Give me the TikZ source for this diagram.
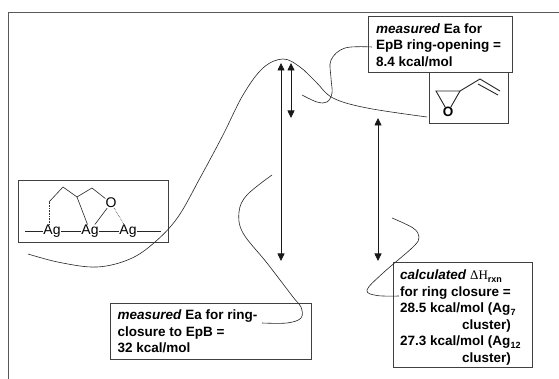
\documentclass[tikz,border=0pt]{standalone}
\usepackage{fontspec}
\setmainfont{Liberation Sans}
\newfontfamily\serifdelta{Liberation Serif}
\usetikzlibrary{arrows.meta}
\newcommand{\lowtext}[1]{\raisebox{-2.5pt}{\fontsize{9}{9}\selectfont #1}}
\tikzset{
  x=1pt,y=-1pt,
  boxnode/.style={draw=black!75,line width=0.8pt,inner sep=0pt,anchor=north west,fill=white},
  label text/.style={font=\fontsize{13.5}{16.5}\selectfont\bfseries,align=left,anchor=north west,inner sep=0pt},
  curve/.style={draw=black!85,line width=0.6pt,smooth,tension=0.6},
  dim/.style={draw=black!90,line width=0.8pt,{Triangle[length=7.5pt,width=7pt]}-{Triangle[length=7.5pt,width=7pt]}},
  bond/.style={draw=black!85,line width=0.6pt},
  dashbond/.style={draw=black!80,line width=0.6pt,densely dotted},
  atom/.style={inner sep=0pt,font=\fontsize{14}{14}\selectfont},
}
\begin{document}
\begin{tikzpicture}
\useasboundingbox (0,0) rectangle (559,379);
\fill[white] (0,0) rectangle (559,379);
% page frame
\coordinate (fa) at (8,379); \coordinate (fb) at (8,12); \coordinate (fc) at (559,12);
\draw[black!65,line width=0.9pt] (fa) -- (fb) -- (fc);

% boxes
\node[boxnode,minimum width=79pt,minimum height=51pt] (molbox) at (429,72) {};
\node[boxnode,minimum width=150pt,minimum height=62pt] (agbox) at (18,180) {};
\node[boxnode,minimum width=144pt,minimum height=56pt] (topbox) at (368,16) {};
\node[boxnode,minimum width=201pt,minimum height=56pt] (closebox) at (110,303) {};
\node[boxnode,minimum width=139pt,minimum height=105pt] (calcbox) at (393,262) {};

% box texts
\node[label text] (toptext) at (376,23.5) {\textit{measured} Ea for\\EpB ring-opening =\\8.4 kcal/mol};
\node[label text] (closetext) at (117.5,310) {\textit{measured} Ea for ring-\\closure to EpB =\\32 kcal/mol};
\node[label text] (calctext) at (400,270) {\textit{calculated} {\serifdelta\mdseries\fontsize{13}{16.5}\selectfont ΔH}\lowtext{rxn}\\for ring closure =\\28.5 kcal/mol (Ag\lowtext{7}\\\hspace*{62pt}cluster)\\27.3 kcal/mol (Ag\lowtext{12}\\\hspace*{62pt}cluster)};

% energy curve
\coordinate (c0) at (28,254);
\coordinate (c9) at (427,117);
\draw[curve] plot coordinates {(c0) (60,262.5) (97,267) (130,259) (155,242) (178,217) (200,178) (223,135) (243,95) (263,68) (283,59) (300,67) (316,82) (333,98) (367,108) (c9)};

% leader curves
\coordinate (t0) at (372,47); \coordinate (t1) at (302,95);
\draw[curve] plot coordinates {(t0) (345,48) (331,60) (331,78) (332,93) (327,102) (317,102) (t1)};
\coordinate (r0) at (262,323); \coordinate (r1) at (272,175);
\draw[curve] plot coordinates {(r0) (287,323) (301,318) (301,307) (293,297) (267,263) (243,233) (239,212) (247,195) (r1)};
\coordinate (k0) at (399,296); \coordinate (k1) at (392,218);
\draw[curve] plot coordinates {(k0) (377,295.5) (367,290) (383,273) (413,247) (419,237) (413,228) (k1)};

% energy arrows
\coordinate (a1t) at (281,63); \coordinate (a1b) at (281,261);
\coordinate (a2t) at (291,63); \coordinate (a2b) at (291,118);
\coordinate (a3t) at (378,118); \coordinate (a3b) at (378,261);
\draw[dim] (a1t) -- (a1b);
\draw[dim] (a2t) -- (a2b);
\draw[dim] (a3t) -- (a3b);

% butadiene epoxide
\node[atom,font=\fontsize{13.5}{14}\selectfont\bfseries] (eo) at (448,112) {O};
\coordinate (e1) at (436,91); \coordinate (e2) at (460,91);
\coordinate (v1) at (480,79); \coordinate (v2) at (500,91); \coordinate (v3) at (478,84); \coordinate (v4) at (498,95);
\draw[bond,line width=0.9pt] (eo) -- (e1) -- (e2) -- (eo);
\draw[bond,line width=0.9pt] (e2) -- (v1) -- (v2);
\draw[bond,line width=0.9pt] (v3) -- (v4);

% surface intermediate
\node[atom] (ag1) at (52,231) {Ag};
\node[atom] (ag2) at (90,231) {Ag};
\node[atom] (ag3) at (128,231) {Ag};
\node[atom] (oa) at (111,203) {O};
\coordinate (l0) at (25,231); \coordinate (l1) at (161,231);
\draw[bond] (l0) -- (ag1); \draw[bond] (ag1) -- (ag2); \draw[bond] (ag2) -- (ag3); \draw[bond] (ag3) -- (l1);
\coordinate (b1) at (49,202); \coordinate (b2) at (63,187); \coordinate (b3) at (77,197); \coordinate (b4) at (92,188);
\draw[dashbond] (ag1.north -| b1) -- (b1);
\draw[bond] (b1) -- (b2) -- (b3) -- (b4) -- (oa);
\draw[bond] (b3) -- (ag2);
\draw[bond] (oa) -- (ag2);
\draw[dashbond] (oa) -- (ag3);
\end{tikzpicture}
\end{document}
